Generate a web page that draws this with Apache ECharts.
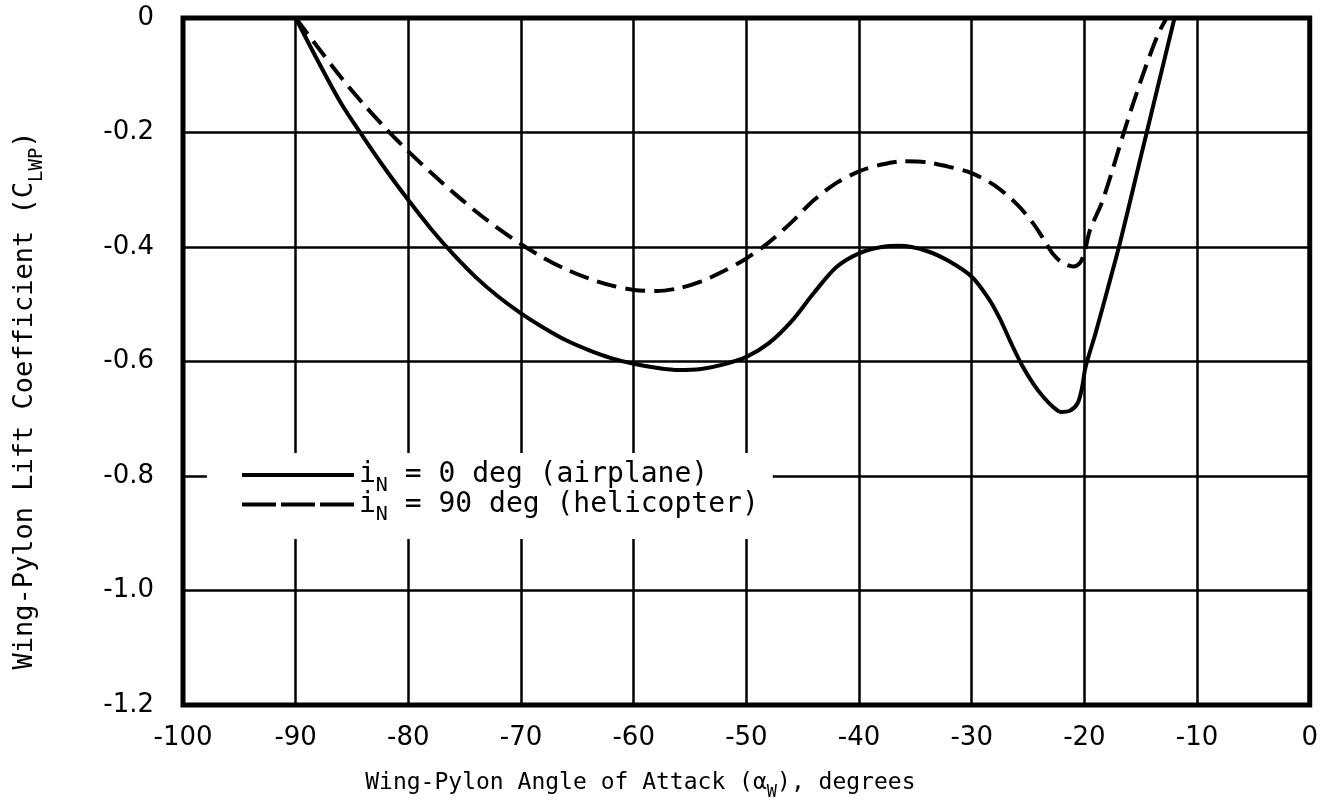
<!DOCTYPE html>
<html>
<head>
<meta charset="utf-8">
<script src="https://cdn.jsdelivr.net/npm/echarts@6/dist/echarts.min.js"></script>
<style>
html,body{margin:0;padding:0;background:#fff;}
#chart{width:1321px;height:811px;}
</style>
</head>
<body>
<div id="chart"></div>
<script>
// ---- data ----
const alphaAirplane = [-90, -88, -86, -84, -82, -80, -78, -76, -74, -72, -70, -68, -66, -64, -62, -60, -58, -56, -54, -52, -50, -48, -46, -44, -42, -40, -38, -36.4, -34, -32, -30, -28.5, -27.5, -26.5, -25.5, -24.5, -23.6, -22.8, -22.1, -21.3, -20.6, -20.2, -19.9, -19, -18, -17, -16, -15, -14, -13, -12];
const clAirplane    = [0, -0.076, -0.148, -0.208, -0.265, -0.318, -0.368, -0.413, -0.453, -0.487, -0.516, -0.541, -0.563, -0.580, -0.594, -0.604, -0.611, -0.615, -0.613, -0.605, -0.592, -0.568, -0.53, -0.48, -0.435, -0.411, -0.400, -0.398, -0.407, -0.425, -0.452, -0.49, -0.525, -0.568, -0.608, -0.640, -0.663, -0.679, -0.688, -0.686, -0.673, -0.645, -0.61, -0.55, -0.478, -0.405, -0.325, -0.243, -0.162, -0.081, 0];

const alphaHelicopter = [-90, -88, -86, -84, -82, -80, -78, -76, -74, -72, -70, -68, -66, -64, -62, -60, -58, -56, -54, -52, -50, -48, -46, -44, -42, -40, -38, -36, -34, -32, -30, -28, -26, -24.5, -23.5, -22.8, -22, -21, -20.4, -20.0, -19.5, -18.5, -17.5, -16.5, -15, -13.5, -12.7];
const clHelicopter    = [0, -0.052, -0.103, -0.15, -0.193, -0.233, -0.27, -0.305, -0.338, -0.368, -0.395, -0.419, -0.439, -0.455, -0.467, -0.475, -0.477, -0.472, -0.46, -0.442, -0.42, -0.392, -0.357, -0.318, -0.288, -0.268, -0.256, -0.25, -0.252, -0.26, -0.271, -0.292, -0.325, -0.36, -0.39, -0.412, -0.427, -0.434, -0.428, -0.41, -0.37, -0.325, -0.265, -0.2, -0.11, -0.03, 0];

const legendMain = 'i';
const legendSub = 'N';
const legendRest = [' = 0 deg (airplane)', ' = 90 deg (helicopter)'];
const seriesNames = ['airplane', 'helicopter'];

const xTitle = ['Wing-Pylon Angle of Attack (\u03b1', 'W', '), degrees'];
const yTitle = ['Wing-Pylon Lift Coefficient (C', 'LWP', ')'];

const xMin = -100, xMax = 0, xStep = 10;
const yMin = -1.2, yMax = 0, yStep = 0.2;

// ---- chart ----
function pairs(xs, ys){ return xs.map((x, i) => [x, ys[i]]); }

const MONO = 'DejaVu Sans Mono';
const SANS = 'DejaVu Sans';

const chart = echarts.init(document.getElementById('chart'), null, {renderer: 'canvas'});
const option = {
  animation: false,
  backgroundColor: '#fff',
  grid: {left: 183, right: 10, top: 18, bottom: 106, show: true, borderColor: '#000', borderWidth: 5, containLabel: false},
  xAxis: {
    type: 'value', min: xMin, max: xMax, interval: xStep,
    axisLine: {show: false}, axisTick: {show: false},
    splitLine: {show: true, lineStyle: {color: '#000', width: 2.5}},
    axisLabel: {fontFamily: SANS, fontSize: 26, color: '#000', margin: 20},
    name: '{a|' + xTitle[0] + '}{s|' + xTitle[1] + '}{a|' + xTitle[2] + '}',
    nameLocation: 'middle', nameGap: 60,
    nameTextStyle: {
      padding: [0, 212, 0, 0],
      rich: {
        a: {fontFamily: MONO, fontSize: 23, color: '#000', lineHeight: 36},
        s: {fontFamily: MONO, fontSize: 17, color: '#000', lineHeight: 17, verticalAlign: 'bottom'}
      }
    }
  },
  yAxis: {
    type: 'value', min: yMin, max: yMax, interval: yStep,
    axisLine: {show: false}, axisTick: {show: false},
    splitLine: {show: true, lineStyle: {color: '#000', width: 2.5}},
    axisLabel: {fontFamily: SANS, fontSize: 26, color: '#000', margin: 29,
      formatter: v => (Math.abs(v) < 1e-9 ? '0' : v.toFixed(1))},
    name: '{a|' + yTitle[0] + '}{s|' + yTitle[1] + '}{a|' + yTitle[2] + '}',
    nameLocation: 'middle', nameGap: 136, nameRotate: 90,
    nameTextStyle: {
      padding: [0, 78, 0, 0],
      rich: {
        a: {fontFamily: MONO, fontSize: 27, color: '#000', lineHeight: 44},
        s: {fontFamily: MONO, fontSize: 19, color: '#000', lineHeight: 19, verticalAlign: 'bottom'}
      }
    }
  },
  legend: {
    orient: 'vertical', left: 207, top: 453,
    backgroundColor: '#fff', padding: [8, 14, 14, 33],
    itemWidth: 112, itemHeight: 14, itemGap: -5,
    itemStyle: {opacity: 0, color: 'rgba(0,0,0,0)', borderWidth: 0},
    data: [
      {name: seriesNames[0], lineStyle: {width: 4, type: 'solid'}},
      {name: seriesNames[1], lineStyle: {width: 4, type: [34, 5]}}
    ],
    formatter: function(name){
      const i = seriesNames.indexOf(name);
      return '{a|' + legendMain + '}{s|' + legendSub + '}{a|' + legendRest[i] + '}';
    },
    textStyle: {
      color: '#000',
      rich: {
        a: {fontFamily: MONO, fontSize: 28, color: '#000', lineHeight: 41},
        s: {fontFamily: MONO, fontSize: 20, color: '#000', lineHeight: 20, verticalAlign: 'bottom'}
      }
    }
  },
  series: [
    {
      name: seriesNames[0], type: 'line', data: pairs(alphaAirplane, clAirplane),
      smooth: 0.3, symbol: 'none', showSymbol: false,
      lineStyle: {color: '#000', width: 4, type: 'solid'}, itemStyle: {color: '#000'}, z: 5
    },
    {
      name: seriesNames[1], type: 'line', data: pairs(alphaHelicopter, clHelicopter),
      smooth: 0.3, symbol: 'none', showSymbol: false,
      lineStyle: {color: '#000', width: 4, type: [20, 9]}, itemStyle: {color: '#000'}, z: 5
    }
  ]
};
chart.setOption(option);
</script>
</body>
</html>
